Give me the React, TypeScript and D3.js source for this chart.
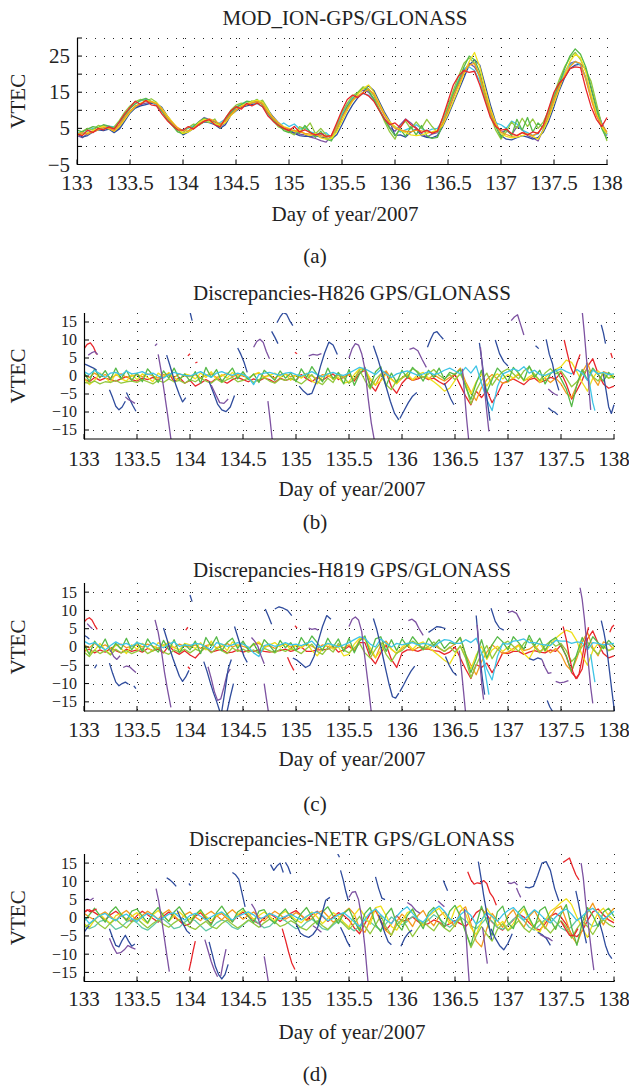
import React from "react";
import * as d3 from "d3";

// ---------- shared axis data ----------
const X_TICKS = [133, 133.5, 134, 134.5, 135, 135.5, 136, 136.5, 137, 137.5, 138];
const A_Y_TICKS = [-5, 0, 5, 10, 15, 20, 25, 30];
const A_Y_LABELS = [-5, 5, 15, 25];
const D_Y_TICKS = [-15, -10, -5, 0, 5, 10, 15];
const START_DAY = 133;
const STEP = 0.05;

// ---------- panel (a): MOD_ION VTEC, one value every 0.05 day ----------
const A_RED = [
  3.5,3.0,4.5,3.8,5.0,4.6,5.4,4.8,6.8,9.0,
  10.8,12.5,11.6,12.8,11.5,11.2,9.0,7.2,5.8,4.6,
  4.5,5.5,4.8,6.0,7.0,7.4,6.0,5.4,7.8,9.8,
  11.0,10.3,11.9,11.2,12.0,11.0,8.5,7.0,5.8,5.0,
  4.4,5.5,4.0,4.6,3.8,3.2,3.6,2.8,3.0,6.5,
  10.0,13.0,14.2,13.5,14.8,14.0,12.5,10.0,7.6,6.0,
  6.5,5.2,7.5,6.0,5.0,3.8,4.5,3.6,4.2,8.0,
  12.5,17.0,19.5,21.0,20.5,20.8,17.0,12.5,8.0,5.5,
  4.5,4.8,3.6,3.0,3.8,3.2,4.0,3.6,6.0,10.5,
  15.0,17.5,19.0,21.5,22.0,21.8,16.0,11.0,7.5,5.5,
  8.0];
const A_ORANGE = [
  3.0,3.8,3.4,4.0,4.6,5.2,5.0,4.4,6.0,8.0,
  9.8,11.2,11.8,12.5,12.3,11.8,10.2,8.0,6.5,5.2,
  4.3,4.4,5.0,6.2,7.0,7.6,7.0,6.2,7.0,8.8,
  10.2,11.0,11.5,12.0,12.4,11.8,9.5,7.8,6.4,5.3,
  4.8,4.4,4.0,3.6,3.4,3.2,3.0,2.6,2.8,5.0,
  8.0,10.5,12.8,14.0,15.0,15.8,14.5,11.5,8.6,6.4,
  5.0,4.6,4.2,4.0,4.5,4.3,4.0,3.8,4.2,6.5,
  10.0,13.8,17.0,20.5,22.5,23.0,19.5,14.5,9.5,6.0,
  4.0,3.3,2.8,3.0,3.8,3.4,3.0,3.8,5.5,8.8,
  13.0,16.5,19.5,22.0,23.5,23.0,18.5,13.0,8.5,6.0,
  4.0];
const A_YELLOW = [
  3.6,3.2,3.8,4.4,5.0,5.6,5.0,4.2,5.5,7.5,
  9.5,11.0,12.0,12.6,12.5,12.0,10.5,8.5,6.8,5.0,
  3.6,4.0,5.0,6.6,7.5,7.0,6.4,5.8,6.6,8.5,
  10.0,11.2,11.8,12.4,12.8,12.2,10.0,8.0,6.5,5.5,
  5.0,4.2,4.6,3.4,3.0,3.6,2.4,2.0,2.2,4.0,
  7.0,10.0,12.5,14.5,16.0,17.0,15.0,12.0,9.0,6.8,
  5.5,4.5,3.8,3.2,3.0,3.2,3.6,4.0,4.5,5.8,
  9.0,12.5,16.0,20.0,23.5,26.0,22.0,16.0,10.5,6.5,
  3.5,2.8,2.4,2.6,3.0,3.4,2.8,2.0,4.5,7.8,
  12.0,16.0,20.0,23.5,25.5,24.5,20.5,14.5,9.0,5.5,
  3.5];
const A_GREEN = [
  4.5,4.0,4.8,5.5,5.2,6.0,5.6,5.0,6.0,8.5,
  10.5,11.8,12.8,13.3,12.5,11.8,9.8,7.5,5.8,4.0,
  3.5,4.2,5.5,6.8,7.8,7.2,6.4,6.0,7.2,9.2,
  10.8,11.5,12.5,12.3,13.0,11.5,9.2,7.5,6.0,4.4,
  3.8,4.5,3.6,5.8,4.0,2.5,4.2,2.0,1.5,4.5,
  8.0,11.0,13.0,14.8,16.2,15.5,13.0,10.0,7.5,5.0,
  3.0,4.8,2.8,5.5,3.2,5.8,3.0,2.2,2.5,6.0,
  10.5,14.5,18.0,22.0,25.0,24.0,20.5,14.8,10.0,5.5,
  2.5,5.0,3.0,7.5,4.5,8.0,4.0,6.5,5.0,9.0,
  13.5,17.5,21.5,25.0,27.0,25.5,22.0,16.5,10.5,5.0,
  2.0];
const A_LIGHTGREEN = [
  3.2,4.2,5.0,4.6,5.8,5.4,4.8,5.4,7.2,9.5,
  11.2,12.4,13.0,12.5,13.2,12.2,10.4,8.2,6.4,4.5,
  3.8,5.2,6.2,5.8,7.0,6.6,7.6,5.2,7.8,10.0,
  11.4,12.0,11.6,12.6,12.0,12.8,10.5,7.2,5.4,4.8,
  4.0,3.2,5.5,4.8,6.5,3.5,5.0,3.2,2.5,6.0,
  9.5,12.0,14.0,15.0,16.5,16.0,14.0,10.5,7.0,4.0,
  2.0,5.5,7.0,4.8,6.8,5.0,7.5,5.5,4.0,7.8,
  11.5,15.5,19.5,23.0,24.5,23.0,19.0,13.5,8.5,4.5,
  2.0,4.0,6.8,5.0,7.8,5.5,7.6,5.0,6.8,10.0,
  14.5,18.5,22.0,24.5,26.0,24.0,21.0,18.0,12.0,6.0,
  1.5];
const A_CYAN = [
  3.8,3.5,4.2,5.0,4.6,5.0,5.6,5.4,6.6,8.6,
  10.6,11.8,12.6,13.0,12.4,11.4,9.6,7.6,6.0,4.8,
  4.6,5.0,5.8,6.4,7.8,6.8,6.2,6.6,7.6,9.4,
  10.8,11.8,12.4,12.2,11.8,11.0,9.0,7.0,5.6,6.5,
  5.5,6.2,4.8,5.2,4.0,3.6,3.2,3.8,2.5,5.0,
  9.0,11.8,13.5,14.0,14.6,14.2,12.8,10.2,7.8,6.0,
  5.5,4.0,4.6,5.2,6.0,5.0,4.2,4.8,5.0,7.2,
  10.8,14.8,18.5,21.5,22.0,21.0,18.0,13.0,8.8,6.5,
  6.0,5.0,7.0,6.2,4.5,3.8,3.0,3.5,5.8,10.0,
  14.0,17.5,20.5,22.5,23.5,22.5,19.0,13.5,9.5,6.2,
  3.2];
const A_BLUE = [
  3.5,2.6,3.0,4.0,4.6,4.4,4.8,3.8,4.8,7.0,
  9.2,10.6,11.2,11.6,12.0,11.8,10.8,8.5,6.6,4.8,
  3.2,4.0,5.0,6.0,6.8,6.6,6.0,5.0,6.0,8.6,
  9.8,10.8,11.2,11.6,12.0,12.2,10.2,8.2,6.6,5.2,
  4.2,3.6,3.0,2.8,2.8,3.0,2.6,2.4,2.0,3.2,
  6.0,9.0,11.5,13.5,15.0,16.8,15.5,12.5,9.5,7.0,
  3.0,3.2,2.6,4.0,4.8,3.0,2.5,2.4,3.0,5.5,
  8.5,12.0,15.5,19.0,22.5,24.0,22.5,17.0,11.5,6.8,
  3.0,2.0,1.8,2.4,3.0,2.6,2.0,2.5,4.0,7.0,
  11.0,15.5,19.0,21.5,22.5,22.8,21.5,16.0,10.5,6.5,
  3.5];
const A_PURPLE = [
  3.0,2.4,3.6,4.2,4.8,5.8,5.2,4.0,5.2,7.8,
  9.8,10.8,11.6,12.0,12.2,11.5,10.0,8.2,6.4,4.6,
  3.4,4.2,5.4,6.8,8.0,7.4,6.8,5.6,6.4,8.8,
  10.2,11.0,11.6,12.0,12.6,11.6,9.6,7.6,6.0,4.8,
  4.6,3.8,3.4,3.2,2.6,2.2,1.6,1.2,3.0,5.8,
  8.6,11.2,13.2,14.8,15.6,15.0,13.2,10.4,7.6,5.2,
  4.2,6.0,7.6,6.5,5.2,3.6,2.6,3.4,3.8,6.2,
  9.6,13.5,17.5,21.0,23.0,22.0,19.5,14.0,9.2,5.8,
  3.8,4.5,3.2,5.5,4.6,3.0,2.4,1.5,4.8,8.2,
  12.5,16.8,20.5,23.0,23.5,22.5,19.0,14.0,8.8,5.2,
  3.0];

// ---------- panel (b): H826 discrepancies ----------
const B_GREEN = [
  1.0,-1.5,2.0,-0.5,1.5,-1.0,2.2,-0.8,1.6,-1.2,
  0.8,-1.6,2.0,0.2,-1.8,1.4,-0.6,2.2,-1.0,0.6,
  -1.4,1.2,-2.0,2.4,-0.4,1.8,-1.6,0.4,2.2,-0.8,
  1.2,-1.0,0.6,-1.8,1.6,0.2,-1.2,1.4,-0.6,0.8,
  -1.6,2.0,-0.4,2.6,0.4,-1.6,2.2,-0.8,1.0,-2.2,
  1.8,-2.6,0.6,2.4,-3.2,1.2,2.6,-2.8,0.8,-1.8,
  1.6,-0.6,2.4,0.8,-1.4,1.6,-0.4,2.2,-1.0,1.0,
  0.4,1.8,-3.0,-6.5,-2.0,1.6,-4.5,-1.0,2.2,0.6,
  -1.6,2.4,0.8,-1.2,2.8,-0.4,1.6,-2.2,0.6,1.8,
  -0.8,-3.6,-8.5,-2.4,1.8,-1.2,2.2,0.4,-1.4,1.0,
  -0.6];
const B_LIGHTGREEN = [
  -1.8,-2.0,-1.4,-2.2,-1.6,-1.8,-1.2,-2.0,-1.6,-1.4,
  -1.8,-1.0,-1.6,-2.2,-1.2,-1.8,-0.8,-1.6,-1.2,-2.0,
  -1.0,-1.6,-0.6,-1.4,-2.0,-0.8,-1.8,-1.0,-0.4,-1.6,
  -1.2,-0.6,-1.8,-1.0,-0.4,-1.4,-2.0,-0.8,-1.2,-0.6,
  -1.4,-2.2,-1.0,0.4,-1.6,-2.4,-0.6,-1.8,0.8,-0.4,
  -2.0,-0.8,1.6,-1.2,-3.6,-1.0,0.6,-2.4,-3.8,-1.2,
  -0.6,0.8,2.0,1.2,-0.4,0.6,1.8,0.2,-0.8,0.4,
  -1.0,0.6,-2.4,-7.8,-4.0,-1.2,0.8,-2.6,-0.4,1.2,
  2.0,0.6,-0.8,1.4,2.6,0.4,-1.2,0.8,2.0,0.6,
  1.4,-0.6,-3.0,-1.6,0.6,1.8,-0.2,-1.4,0.8,-0.6,
  -0.2];
const B_YELLOW = [
  -0.6,-2.4,-1.2,0.8,-0.4,-1.8,0.6,-0.8,-1.4,0.4,
  -1.0,0.6,-0.4,-1.6,0.8,-0.2,1.0,-0.6,-1.2,0.6,
  0.2,-0.8,0.8,-0.4,1.2,-1.0,0.4,-0.6,1.0,-0.2,
  0.6,-0.8,0.4,1.0,-0.6,0.2,0.8,-0.4,0.6,-1.2,
  0.2,-0.6,0.8,-1.4,-2.2,-0.2,0.6,-1.0,-0.4,-2.0,
  -1.6,0.4,2.0,1.6,-0.6,-2.4,-1.4,0.6,-1.0,-2.2,
  -0.4,0.6,-1.0,0.4,1.0,-0.6,-1.6,-2.8,-4.2,-3.4,
  -1.2,0.8,-2.2,-5.0,-1.6,0.6,-2.8,-0.4,0.6,-0.8,
  0.4,-0.6,0.8,-1.4,-0.2,0.6,-1.8,-0.4,0.8,1.8,
  2.6,4.4,3.8,1.2,-1.8,-4.2,-0.6,1.4,0.2,-0.6,
  0.4];
const B_ORANGE = [
  0.2,-0.4,0.8,-0.2,0.4,-0.6,0.2,0.6,-0.4,0.0,
  0.4,-0.2,0.6,0.0,-0.6,0.4,0.2,-0.4,0.6,0.0,
  -0.2,0.4,-0.6,0.2,0.6,-0.4,0.0,0.8,-0.2,0.4,
  0.0,-0.6,0.4,0.8,-0.2,0.2,-0.6,0.4,0.6,-0.2,
  0.2,-0.4,0.6,0.0,-0.8,0.4,0.0,-0.6,0.2,-0.4,
  0.4,-1.0,1.8,2.2,-1.2,-2.6,0.4,1.4,-0.8,-2.0,
  -0.6,0.2,-1.2,-0.4,-0.2,-0.8,0.4,-0.6,-1.4,-0.4,
  0.6,2.2,-1.6,-4.4,-6.8,-3.2,-1.0,0.4,-0.8,-2.0,
  -1.6,-0.6,0.4,-1.2,-0.8,0.2,-1.4,-0.6,-1.8,-0.6,
  -2.2,-4.8,-6.0,-2.6,1.0,3.6,-0.4,-2.6,1.2,0.6,
  -0.8];
const B_CYAN = [
  1.2,0.4,1.6,0.6,-0.4,0.8,1.0,0.2,1.4,0.6,
  0.8,1.2,0.4,0.8,0.0,-0.6,0.4,1.0,0.6,0.2,
  0.0,0.6,1.2,0.4,-0.4,0.8,1.2,0.6,0.2,0.8,
  0.4,-0.4,-2.4,0.4,0.8,1.0,0.6,0.2,0.8,1.0,
  0.4,0.0,0.6,1.2,0.4,-0.2,0.6,1.0,0.4,0.2,
  0.8,1.6,2.4,2.0,1.2,0.4,1.8,0.6,-0.4,0.6,
  1.0,1.4,0.8,0.2,0.6,1.2,0.4,0.8,1.6,2.2,
  1.4,0.6,2.4,0.8,2.8,-2.0,-6.6,-9.6,-3.0,0.6,
  1.2,2.0,1.4,2.6,0.8,1.6,0.4,0.2,0.8,1.4,
  2.0,1.2,0.6,1.8,0.8,-1.2,1.6,0.6,1.0,0.4,
  0.6];
const B_RED = [
  -0.8,-1.6,-0.4,-1.2,-0.6,-1.0,-1.4,-0.8,-0.2,-1.0,
  -1.4,-0.6,-1.0,-0.4,-1.2,-0.2,0.8,-1.6,-0.4,-2.0,
  -1.2,-2.8,-2.0,-1.0,-1.8,-0.6,-1.2,-2.0,-1.0,-0.4,
  -1.0,-1.6,-0.8,-1.4,-0.6,-1.0,-1.8,-0.6,-1.2,-0.8,
  -1.2,0.4,-0.8,-1.6,-0.4,-1.2,-0.2,0.6,-1.0,-0.4,
  0.6,-1.4,0.8,1.6,-2.4,-4.2,-1.2,1.0,-3.0,-4.8,
  -2.0,-0.4,-1.2,-0.8,-0.2,-1.0,-0.6,-1.6,-2.4,-1.0,
  0.4,-2.6,-5.6,-8.0,-4.2,-6.0,-4.0,-7.4,-5.0,-2.0,
  -1.4,-0.8,-1.6,-2.4,-1.0,-0.6,-1.8,-1.2,-0.4,-0.8,
  1.0,-2.2,-6.4,-4.0,-1.2,2.6,4.8,0.6,-2.2,-3.4,
  -2.8];
// satellite arcs with large discrepancies: k = satellite group, t = start day, dt = sampling, v = values
const B_ARCS = [
  { k: "r", t: 133.0, dt: 0.03, v: [7.5, 8.8, 9.2, 8.0, 6.0] },
  { k: "p", t: 133.04, dt: 0.03, v: [5.8, 6.4, 6.8, 6.0] },
  { k: "b", t: 133.0, dt: 0.03, v: [3.4, 3.0, 2.6, 2.2, 1.6] },
  { k: "b", t: 133.24, dt: 0.03, v: [-3.8, -6.0, -8.4, -9.4, -8.6, -7.0] },
  { k: "b", t: 133.4, dt: 0.03, v: [-4.6, -6.4, -8.2, -9.8] },
  { k: "p", t: 133.39, dt: 0.03, v: [-5.8, -6.6, -7.0, -7.6] },
  { k: "p", t: 133.67, dt: 0.02, v: [8.4, 9.0] },
  { k: "p", t: 133.7, dt: 0.03, v: [6.0, 1.0, -5.0, -11.0, -17.5, -20] },
  { k: "b", t: 133.78, dt: 0.03, v: [5.8, 3.0, 0.0, -2.8, -5.2, -7.2, -6.0] },
  { k: "b", t: 134.0, dt: 0.02, v: [17.8, 15.4] },
  { k: "r", t: 133.98, dt: 0.02, v: [5.6, 6.2] },
  { k: "r", t: 134.05, dt: 0.02, v: [3.6, 3.9] },
  { k: "b", t: 134.18, dt: 0.04, v: [-1.5, -4.6, -7.8, -9.4, -9.9, -8.6, -5.4] },
  { k: "p", t: 134.2, dt: 0.04, v: [-2.5, -5.0, -7.4, -7.6, -6.4] },
  { k: "b", t: 134.45, dt: 0.03, v: [7.8, 6.0, 3.8, 1.0] },
  { k: "p", t: 134.6, dt: 0.03, v: [8.0, 9.6, 10.2, 9.4, 6.8, 4.8] },
  { k: "p", t: 134.735, dt: 0.02, v: [-7.0, -12.0, -17.5, -20] },
  { k: "b", t: 134.77, dt: 0.03, v: [12.4, 10.8, 9.0] },
  { k: "b", t: 134.82, dt: 0.03, v: [14.8, 16.4, 17.6, 17.2, 15.4, 14.0] },
  { k: "r", t: 134.99, dt: 0.02, v: [6.6, 6.2] },
  { k: "p", t: 135.12, dt: 0.04, v: [5.6, 6.0, 5.8, 6.2] },
  { k: "b", t: 135.03, dt: 0.04, v: [-2.8, -4.2, -5.2, -4.8, -1.8, 2.6, 6.4, 9.4, 8.6, 6.0] },
  { k: "p", t: 135.5, dt: 0.03, v: [5.0, 7.6, 9.0, 8.6, 6.2, 2.0, -6.0, -13.0, -18] },
  { k: "b", t: 135.73, dt: 0.04, v: [8.4, 5.0, 1.0, -3.0, -7.0, -10.4, -12.2] },
  { k: "b", t: 135.98, dt: 0.04, v: [-11.8, -9.6, -7.4, -5.6, -4.6] },
  { k: "p", t: 136.07, dt: 0.04, v: [7.4, 7.8, 7.0, 4.6, 2.4] },
  { k: "b", t: 136.24, dt: 0.03, v: [8.0, 10.2, 12.0, 12.3, 11.2, 10.2] },
  { k: "b", t: 136.4, dt: 0.03, v: [-2.0, -4.2, -6.4, -8.0] },
  { k: "p", t: 136.57, dt: 0.02, v: [2.0, -5.0, -12.0, -18.0] },
  { k: "b", t: 136.73, dt: 0.025, v: [9.2, 4.0, -2.0, -7.0, -12.4] },
  { k: "p", t: 136.74, dt: 0.02, v: [8.0, 2.0, -4.0, -10.0, -15.4] },
  { k: "b", t: 136.88, dt: 0.04, v: [10.0, 6.2, 4.0, 2.8] },
  { k: "p", t: 137.03, dt: 0.03, v: [15.4, 16.4, 17.0, 14.2, 11.4] },
  { k: "b", t: 137.26, dt: 0.03, v: [8.4, 7.6] },
  { k: "b", t: 137.36, dt: 0.03, v: [10.2, 6.0, 3.4, -1.0, -4.0] },
  { k: "p", t: 137.38, dt: 0.03, v: [-3.6, -4.4, -5.0, -5.4] },
  { k: "b", t: 137.38, dt: 0.03, v: [-8.8, -9.6, -10.0, -10.8] },
  { k: "r", t: 137.53, dt: 0.03, v: [10.0, 6.2, 2.6, 0.4, 3.6, 6.0] },
  { k: "c", t: 137.74, dt: 0.02, v: [3.6, 0.0, -4.0, -7.4, -9.6] },
  { k: "p", t: 137.7, dt: 0.02, v: [18.0, 12.0, 5.0, -2.0, -9.4] },
  { k: "b", t: 137.88, dt: 0.02, v: [14.2, 12.0, 9.0] },
  { k: "b", t: 137.9, dt: 0.025, v: [0.5, -4.0, -8.6, -10.4, -8.0] },
  { k: "r", t: 137.97, dt: 0.015, v: [6.4, 5.0] },
];

// ---------- panel (c): H819 discrepancies ----------
const C_GREEN = [
  0.8,-2.0,1.6,-0.4,2.2,-1.2,1.0,-0.6,2.4,-0.8,
  1.4,-1.2,2.2,0.0,-1.4,1.8,-0.8,2.0,-1.6,0.8,
  -0.8,1.6,-1.8,2.6,0.2,2.8,-1.0,1.2,2.4,-0.4,
  1.6,-0.8,1.0,-1.6,2.0,0.4,-1.4,1.8,-0.2,1.2,
  -1.0,2.6,0.4,3.0,1.2,-1.0,2.4,0.0,2.2,-1.2,
  2.4,-1.6,1.6,3.0,-2.0,2.2,2.8,-1.2,2.0,-1.0,
  2.2,0.2,2.8,1.0,-0.6,2.4,0.4,2.0,-0.4,1.2,
  0.8,2.6,-2.0,-7.0,-3.2,2.0,-3.0,0.6,2.8,1.4,
  -0.8,2.8,1.2,-0.6,3.2,0.4,2.4,-1.0,1.6,2.6,
  0.2,-2.4,-6.8,-1.8,2.6,-0.2,2.8,1.2,-0.4,1.8,
  0.2];
const C_LIGHTGREEN = [
  -1.4,-2.6,-0.8,-1.8,-1.0,-2.2,-0.6,-1.6,-1.0,-1.8,
  -1.2,-0.4,-1.8,-1.0,-0.2,-1.4,-2.0,-0.8,-1.4,-0.6,
  -1.6,-0.6,-1.2,-0.2,-1.6,-0.4,-1.0,-1.8,-0.2,-1.2,
  -0.6,-1.4,-0.8,-1.8,-0.4,-1.0,-1.6,-0.6,-1.2,-0.4,
  -1.0,-1.8,-0.4,0.8,-1.2,-2.0,-0.2,-1.4,1.0,-0.8,
  -1.6,-0.2,1.0,-1.6,-3.0,-0.6,1.2,-2.0,-4.0,-1.6,
  -1.0,0.4,1.6,0.6,-0.8,0.2,1.4,-0.2,-1.2,0.0,
  -1.4,0.2,-3.0,-8.4,-5.0,-1.8,0.4,-3.2,-0.8,0.8,
  1.6,0.2,-1.2,1.0,2.2,0.0,-1.6,0.4,1.6,0.2,
  1.0,-1.0,-4.0,-2.4,0.2,1.4,-0.6,-2.0,0.4,-1.0,
  -0.4];
const C_YELLOW = [
  -0.2,-1.8,-1.0,1.0,-0.8,-2.0,0.8,-0.4,-1.8,0.6,
  -0.6,1.0,-0.2,-1.2,1.2,0.2,1.4,-0.2,-0.8,1.0,
  0.6,-0.4,1.2,-0.8,1.6,-0.6,0.8,-1.0,1.4,0.2,
  1.0,-0.4,0.8,1.4,-0.2,0.6,1.2,0.0,1.0,-0.8,
  0.6,-0.2,1.2,-1.0,-2.4,-0.6,1.0,-0.6,0.0,-2.4,
  -2.0,0.8,2.4,2.0,-0.2,-2.8,-1.0,1.0,-0.6,-1.8,
  0.0,1.0,-0.6,0.8,1.4,-0.2,-1.2,-2.4,-3.6,-4.6,
  -2.0,0.4,-2.8,-6.0,-2.2,0.2,-3.4,-0.8,0.2,-1.2,
  0.0,-1.0,0.4,-1.8,-3.2,-0.6,1.0,-1.2,0.6,2.4,
  3.6,4.6,4.0,1.6,-2.4,-5.0,-1.0,1.0,0.0,-1.0,
  0.0];
const C_ORANGE = [
  0.6,-0.2,1.0,0.0,0.6,-0.4,0.4,0.8,-0.2,0.2,
  0.6,0.0,0.8,0.2,-0.4,0.6,0.4,-0.2,0.8,0.2,
  0.0,0.6,-0.4,0.4,0.8,-0.2,0.2,1.0,0.0,0.6,
  0.2,-0.4,0.6,1.0,0.0,0.4,-0.4,0.6,0.8,0.0,
  0.4,-0.2,0.8,0.2,-0.6,0.6,0.2,-0.4,0.4,-0.2,
  0.6,-0.8,2.0,2.6,-1.0,-3.0,0.6,1.6,-0.6,-1.8,
  -0.4,0.4,-1.0,-0.2,0.0,-0.6,0.6,-0.4,-1.2,-0.2,
  0.8,2.6,-2.0,-5.0,-7.6,-4.0,-1.4,0.6,-0.6,-1.8,
  -1.4,-0.4,0.6,-1.0,-0.6,0.4,-1.2,-0.4,-1.6,-0.4,
  -2.0,-5.0,-6.6,-3.0,1.4,4.0,-0.2,-2.4,1.4,0.8,
  -0.6];
const C_CYAN = [
  1.6,0.8,1.2,0.2,-0.8,0.4,1.4,0.6,1.0,0.2,
  1.2,0.8,0.0,1.2,0.4,-0.2,0.8,1.4,0.2,0.6,
  0.4,1.0,0.8,0.0,-0.8,1.2,0.8,0.2,0.6,1.2,
  0.8,0.0,-1.6,-2.6,0.4,0.8,0.2,0.6,1.2,0.6,
  0.8,0.4,1.0,1.6,0.0,0.2,1.0,0.6,0.0,0.6,
  1.2,2.0,2.8,2.4,0.8,0.0,2.2,1.0,0.0,1.0,
  0.6,1.0,1.2,0.6,1.0,0.8,0.0,1.2,2.0,1.8,
  1.0,1.0,2.0,1.2,2.4,-1.6,-6.0,-9.0,-2.6,1.0,
  0.8,1.6,1.8,2.2,1.2,1.2,0.8,0.6,0.4,1.8,
  1.6,1.6,1.0,1.4,1.2,-0.8,1.2,1.0,0.6,0.8,
  1.0];
const C_RED = [
  -1.2,-0.6,-1.6,-0.8,-1.4,-0.4,-1.0,-1.6,-0.6,-1.2,
  -0.8,-1.4,-0.4,-1.0,-0.6,-1.6,0.4,-1.2,-2.0,-1.0,
  -2.2,-3.0,-1.4,0.2,-1.4,-1.0,-0.6,-1.6,-1.4,-0.8,
  -1.4,-1.0,-1.2,-0.8,-1.2,-1.4,-1.2,-1.0,-0.6,-1.2,
  -0.8,0.0,-1.2,-1.2,-0.8,-0.8,-0.6,0.2,-1.4,-0.8,
  0.2,-1.0,1.2,1.2,-2.8,-4.6,-1.6,0.6,-3.4,-5.6,
  -1.6,-0.8,-0.8,-1.2,-0.6,-0.6,-1.0,-1.2,-2.0,-1.4,
  0.0,-3.0,-6.0,-8.6,-4.8,-5.6,-4.4,-7.0,-4.6,-1.6,
  -1.8,-1.2,-1.2,-2.0,-1.4,-1.0,-1.4,-1.6,-0.8,-1.2,
  0.6,-2.6,-7.0,-8.6,-6.0,2.2,4.4,1.0,-1.8,-3.0,
  -2.4];
const C_ARCS = [
  { k: "r", t: 133.0, dt: 0.025, v: [6.8, 7.6, 8.0, 7.4, 6.0, 4.8] },
  { k: "p", t: 133.03, dt: 0.025, v: [6.4, 5.6, 5.0] },
  { k: "b", t: 133.0, dt: 0.025, v: [3.2, 2.8, 2.2] },
  { k: "b", t: 133.1, dt: 0.02, v: [-5.8, -4.8] },
  { k: "b", t: 133.24, dt: 0.03, v: [-4.4, -7.2, -9.6, -10.6, -10.0, -9.6, -10.2] },
  { k: "b", t: 133.47, dt: 0.02, v: [-10.6, -11.4] },
  { k: "p", t: 133.37, dt: 0.03, v: [-5.6, -5.2, -5.4, -6.2, -7.0] },
  { k: "p", t: 133.25, dt: 0.03, v: [-0.8, -2.6, -3.4, -2.4] },
  { k: "p", t: 133.67, dt: 0.03, v: [7.4, 4.0, -1.0, -7.0, -12.0, -16.5] },
  { k: "b", t: 133.75, dt: 0.03, v: [5.2, 2.4, -0.6, -3.2, -5.6, -8.0, -9.4, -8.2, -6.4] },
  { k: "b", t: 134.0, dt: 0.02, v: [14.2, 12.4] },
  { k: "r", t: 133.96, dt: 0.02, v: [4.6, 5.4] },
  { k: "r", t: 133.98, dt: 0.02, v: [-5.4, -6.0] },
  { k: "b", t: 134.13, dt: 0.03, v: [-4.0, -6.6, -9.6, -12.4, -14.8, -17.5] },
  { k: "p", t: 134.17, dt: 0.03, v: [-5.4, -8.6, -12.2, -14.6, -14.2, -11.0, -7.4, -6.0] },
  { k: "b", t: 134.3, dt: 0.03, v: [-17.5, -12.0, -6.0, -3.4] },
  { k: "b", t: 134.35, dt: 0.03, v: [-17.6, -13.6, -10.0] },
  { k: "b", t: 134.42, dt: 0.03, v: [5.6, 2.8, 0.0, -2.6, -4.2] },
  { k: "p", t: 134.58, dt: 0.03, v: [2.6, 1.6, 0.2, -2.4, -4.6] },
  { k: "p", t: 134.7, dt: 0.02, v: [-10.0, -14.0, -17.8] },
  { k: "b", t: 134.71, dt: 0.03, v: [10.4, 8.4, 6.2] },
  { k: "b", t: 134.8, dt: 0.04, v: [10.4, 11.0, 10.6, 10.0, 8.6] },
  { k: "r", t: 134.99, dt: 0.02, v: [5.8, 5.2] },
  { k: "p", t: 135.12, dt: 0.03, v: [5.2, 4.8, 5.0, 4.6] },
  { k: "b", t: 134.97, dt: 0.04, v: [-3.0, -3.6, -4.6, -5.6, -5.0, -2.6, 1.6, 5.6, 8.6, 7.6] },
  { k: "r", t: 134.92, dt: 0.03, v: [-2.8, -4.8, -6.4] },
  { k: "p", t: 135.5, dt: 0.03, v: [5.6, 7.6, 8.2, 7.4, 4.2, -3.0, -10.0, -17.8] },
  { k: "b", t: 135.73, dt: 0.03, v: [7.8, 5.0, 1.4, -2.6, -6.6, -10.4, -13.6, -14.0, -12.6] },
  { k: "b", t: 135.98, dt: 0.035, v: [-12.2, -10.4, -8.4, -6.6, -5.2] },
  { k: "p", t: 136.06, dt: 0.035, v: [7.2, 7.6, 6.8, 4.8, 3.2] },
  { k: "b", t: 136.25, dt: 0.04, v: [4.0, 4.8, 5.6, 5.4, 5.0] },
  { k: "b", t: 136.41, dt: 0.035, v: [-2.6, -5.0, -6.8, -7.8] },
  { k: "p", t: 136.54, dt: 0.02, v: [-1.0, -6.0, -12.0, -18.0] },
  { k: "b", t: 136.7, dt: 0.02, v: [8.6, 2.0, -4.0, -9.0, -13.0] },
  { k: "p", t: 136.71, dt: 0.015, v: [6.0, 0.0, -6.0, -11.0, -14.4] },
  { k: "c", t: 136.76, dt: 0.02, v: [-2.0, -6.0, -9.6, -13.0] },
  { k: "b", t: 136.84, dt: 0.04, v: [10.6, 7.0, 5.2, 4.6] },
  { k: "p", t: 137.0, dt: 0.04, v: [9.4, 9.8, 9.2, 7.0] },
  { k: "b", t: 137.2, dt: 0.04, v: [-3.2, -3.6, -3.0, -3.4] },
  { k: "p", t: 137.32, dt: 0.03, v: [-3.4, -5.6, -7.2, -7.0] },
  { k: "p", t: 137.45, dt: 0.04, v: [-9.4, -9.8, -9.6, -9.2] },
  { k: "b", t: 137.37, dt: 0.025, v: [-14.6, -16.4, -17.6] },
  { k: "r", t: 137.52, dt: 0.03, v: [5.6, 2.0, -3.0, -6.6, -8.6, -7.4, -3.0, 2.0, 5.4] },
  { k: "p", t: 137.68, dt: 0.02, v: [16.2, 13.0, 8.0, 2.0, -5.0, -11.0, -15.4] },
  { k: "c", t: 137.78, dt: 0.02, v: [-2.0, -6.0, -9.6] },
  { k: "b", t: 137.88, dt: 0.025, v: [7.2, 4.0, 0.0, -6.0, -12.0, -17.8] },
  { k: "r", t: 137.96, dt: 0.02, v: [4.0, 5.4, 6.0] },
];

// ---------- panel (d): NETR discrepancies ----------
const D_GREEN = [
  -1.0,0.8,2.6,0.6,-1.2,1.6,3.0,1.0,-0.8,1.8,
  2.4,0.4,-1.4,1.2,2.8,0.6,-1.0,1.6,3.0,0.8,
  -1.6,0.8,2.2,0.0,-2.0,1.4,3.2,1.0,-1.2,1.6,
  2.6,0.4,-1.4,1.8,2.2,-0.2,-1.6,1.0,2.4,0.2,
  -1.2,1.2,2.8,0.4,-1.8,1.6,3.0,0.6,-1.6,1.2,
  2.4,-0.8,-3.6,1.2,2.8,-1.8,-3.8,0.8,2.6,-1.6,
  -3.4,0.6,2.4,-0.6,-3.0,1.4,2.8,0.2,-2.6,1.8,
  3.4,0.4,-4.0,-7.6,-2.0,3.2,-1.2,-4.8,1.6,3.2,
  -1.4,-3.0,1.6,3.2,0.0,-2.8,2.0,3.0,-0.6,-3.2,
  1.0,3.6,-2.6,-7.6,-1.4,2.8,0.6,-2.4,1.6,2.6,
  0.4];
const D_LIGHTGREEN = [
  -2.6,-1.8,-0.6,-2.0,-3.0,-1.4,-0.4,-1.8,-2.8,-1.2,
  -0.2,-1.6,-2.8,-1.6,-0.6,-1.8,-2.6,-1.4,-0.4,-1.6,
  -2.6,-3.2,-2.0,-1.0,-2.4,-3.0,-1.6,-0.6,-1.8,-2.8,
  -1.8,-0.6,-1.6,-2.6,-1.4,-0.4,-1.2,-2.4,-1.8,-0.8,
  -1.6,-2.8,-3.4,-2.0,-0.8,-2.2,-3.2,-1.6,-0.4,-1.8,
  -3.2,-1.6,0.4,-2.4,-4.4,-2.0,0.6,-2.6,-4.8,-2.0,
  -0.4,-2.6,-5.2,-3.0,-1.0,-2.4,-3.6,-1.4,-2.8,-3.8,
  -2.0,-0.2,-3.6,-8.2,-5.0,-2.4,-4.6,-6.4,-3.2,-1.6,
  -3.6,-2.4,-0.8,-2.8,-4.0,-2.0,-0.6,-2.6,-4.2,-2.4,
  -0.8,-2.6,-5.6,-3.0,-1.0,-2.4,-4.6,-2.2,-0.6,-1.8,
  -2.6];
const D_YELLOW = [
  -1.6,-2.8,-0.6,1.0,-0.4,-1.6,0.6,1.2,-0.8,0.4,
  1.4,-0.4,-1.6,0.8,2.0,0.4,-1.0,0.6,1.6,0.2,
  -0.6,0.8,1.8,0.4,-0.8,0.6,1.4,0.0,-1.0,0.8,
  2.0,1.2,-0.4,0.6,1.6,0.4,-0.8,0.8,1.8,0.6,
  -0.6,-1.4,0.2,1.6,0.2,-1.6,-0.2,1.4,0.4,-1.2,
  -2.6,0.8,2.6,0.4,-1.8,2.8,3.2,0.6,-2.4,-3.4,
  -1.0,1.4,2.0,-0.4,-2.2,0.4,1.6,2.6,0.6,-1.6,
  2.4,3.4,1.0,-2.8,-4.6,-1.0,2.6,0.4,-2.2,-1.0,
  -3.4,-1.6,0.8,2.4,-0.6,-3.0,-4.0,-0.8,1.8,2.8,
  4.2,5.2,3.6,0.2,-2.8,-5.4,-1.6,1.4,2.6,0.6,
  -0.8];
const D_ORANGE = [
  1.2,0.2,-0.6,0.8,1.6,0.4,-0.8,1.0,2.0,0.6,
  -0.6,0.6,1.8,0.8,-0.4,1.2,2.2,0.6,-0.8,0.8,
  1.6,0.2,-0.8,0.8,1.8,0.6,-0.6,1.0,2.2,0.8,
  -0.4,0.6,1.6,0.2,-0.8,0.6,1.8,0.8,-0.4,0.4,
  1.4,0.6,-0.8,-0.2,1.2,2.0,0.4,-1.2,-0.4,1.4,
  2.6,1.0,-3.0,-4.0,-0.6,2.6,-1.2,-3.6,-4.8,-1.0,
  1.0,-0.4,-2.4,0.6,2.0,-0.6,-2.2,0.4,1.6,-0.8,
  -2.4,1.8,3.0,-1.6,-6.4,-8.0,-3.0,1.2,-0.8,-2.6,
  0.6,2.2,-0.6,-2.6,0.4,2.0,-0.8,-3.0,0.2,2.4,
  3.2,-0.8,-5.0,-7.2,-3.4,1.4,4.0,0.8,-2.0,1.0,
  2.6];
const D_CYAN = [
  0.4,-1.6,-0.4,0.6,1.2,0.0,-0.8,0.4,1.0,-0.2,
  -1.0,0.2,1.2,0.6,-0.4,0.0,1.0,1.4,0.2,-0.6,
  0.6,1.2,0.4,-0.6,0.2,1.0,1.6,0.4,-0.6,0.4,
  1.0,1.6,0.8,-0.4,0.2,1.2,0.6,-0.2,0.4,1.0,
  0.2,-0.6,0.4,1.2,1.6,0.6,-0.8,-0.2,0.8,1.4,
  0.2,-1.2,-2.4,-0.4,1.4,2.4,0.8,-0.6,-1.6,0.4,
  2.0,3.0,1.2,-0.4,-1.2,0.6,2.2,3.2,1.8,-0.2,
  -1.2,0.8,2.0,0.6,-1.8,-0.6,1.4,0.4,-1.0,0.8,
  2.0,2.8,1.2,-0.6,0.8,2.2,1.0,-0.4,-1.4,0.2,
  1.6,2.4,1.0,-0.8,0.4,1.8,2.6,1.2,-0.4,0.6,
  1.8];
const D_TEAL = [
  -2.2,-3.0,-2.4,-1.0,-0.6,-1.8,-3.2,-2.6,-1.2,-0.4,
  -1.4,-2.8,-3.4,-2.2,-0.8,-0.4,-1.6,-3.0,-2.6,-1.2,
  -0.2,-0.8,-2.2,-3.6,-2.8,-1.4,-0.6,-1.2,-2.6,-3.2,
  -2.0,-0.8,-0.4,-1.6,-2.8,-2.4,-1.0,-0.2,-0.8,-2.0,
  -3.0,-2.6,-1.2,-0.4,-1.6,-3.0,-3.4,-2.0,-0.8,-1.4,
  -2.6,-3.6,-2.2,-0.6,-1.2,-2.4,-3.4,-1.6,0.2,-0.8,
  -2.0,-1.0,0.4,-0.4,-1.8,-0.6,0.8,-0.2,-1.6,-2.6,
  -1.4,0.2,-0.8,-2.2,-3.0,-1.6,0.0,-1.0,-2.6,-3.2,
  -2.0,-0.4,0.4,-0.8,-2.6,-3.4,-2.0,-0.4,0.2,-1.2,
  -2.8,-3.6,-2.4,-0.6,0.2,-1.2,-2.4,-1.8,-0.4,0.4,
  -0.6];
const D_RED = [
  1.6,2.2,1.4,0.4,-0.6,0.8,1.8,0.6,-0.4,-1.0,
  0.6,1.8,0.8,-0.2,-1.2,0.4,1.6,0.2,-0.8,-2.2,
  -1.6,0.4,1.4,-0.4,-1.6,0.6,1.2,-0.2,-1.0,0.4,
  1.6,0.4,-0.8,-1.6,0.0,1.2,0.2,-1.0,0.2,1.2,
  2.0,0.6,-0.6,0.8,1.8,0.4,-1.0,0.2,1.4,0.6,
  -0.6,-2.8,-4.4,-1.6,1.2,2.0,-0.8,-3.4,-1.6,0.6,
  -1.0,-0.6,0.2,-1.0,-2.0,-1.6,-0.6,-1.2,-2.4,-1.6,
  -0.8,-1.6,-2.4,-0.8,1.4,2.4,0.8,-1.2,-2.6,-3.4,
  -2.0,-0.6,1.0,0.2,-1.4,-2.8,-3.4,-1.6,0.4,1.2,
  0.2,-1.8,-4.6,-5.2,-3.6,-0.8,1.6,2.4,0.8,-0.6,
  -1.4];
const D_ARCS = [
  { k: "p", t: 133.0, dt: 0.03, v: [4.6, 5.2, 4.8, 5.4] },
  { k: "r", t: 133.0, dt: 0.03, v: [1.4, 2.2, 1.6, 2.0, 2.4] },
  { k: "b", t: 133.0, dt: 0.025, v: [-4.0, -3.0, -2.2] },
  { k: "b", t: 133.24, dt: 0.03, v: [-3.0, -5.4, -7.6, -8.0, -6.2, -4.8, -6.4, -7.8, -7.2] },
  { k: "p", t: 133.24, dt: 0.035, v: [-5.6, -8.0, -9.8, -9.6, -8.8, -7.6, -8.2, -8.6] },
  { k: "p", t: 133.68, dt: 0.025, v: [8.0, 4.6, 0.0, -5.0, -10.0, -14.8] },
  { k: "b", t: 133.78, dt: 0.03, v: [11.0, 10.4, 9.6, 8.6] },
  { k: "b", t: 133.88, dt: 0.03, v: [2.0, 0.0, -2.0, -3.6, -4.4] },
  { k: "b", t: 133.99, dt: 0.015, v: [9.4, 8.8] },
  { k: "r", t: 133.99, dt: 0.02, v: [-14.6, -12.0, -9.0, -6.4] },
  { k: "p", t: 134.14, dt: 0.03, v: [-6.0, -9.0, -12.0, -14.4, -16.2] },
  { k: "b", t: 134.18, dt: 0.03, v: [-6.6, -10.0, -13.4, -15.6, -16.8, -15.6, -12.8] },
  { k: "p", t: 134.29, dt: 0.025, v: [-16.0, -12.0, -8.6] },
  { k: "b", t: 134.4, dt: 0.03, v: [12.4, 11.8, 10.6, 6.8, 3.0] },
  { k: "p", t: 134.58, dt: 0.03, v: [3.8, 2.4, 0.0, -2.6] },
  { k: "p", t: 134.7, dt: 0.02, v: [-10.6, -14.0, -17.8] },
  { k: "b", t: 134.76, dt: 0.03, v: [14.6, 13.0, 14.2, 15.0, 12.4] },
  { k: "b", t: 134.9, dt: 0.025, v: [15.2, 14.0, 12.0] },
  { k: "r", t: 134.87, dt: 0.03, v: [-3.0, -6.0, -9.4, -12.4, -14.2] },
  { k: "b", t: 135.0, dt: 0.04, v: [-1.6, -4.2, -5.0, -5.4, -4.6, -3.0, 0.6, 4.8, 5.6] },
  { k: "p", t: 135.16, dt: 0.04, v: [-2.2, -3.0, -4.0] },
  { k: "b", t: 135.39, dt: 0.02, v: [17.8, 16.6] },
  { k: "b", t: 135.42, dt: 0.025, v: [13.0, 10.4, 7.2, 4.6] },
  { k: "b", t: 135.42, dt: 0.03, v: [-2.6, -4.4, -6.4, -8.0] },
  { k: "p", t: 135.5, dt: 0.03, v: [5.6, 7.0, 7.2, 5.0, 0.0, -8.0, -17.8] },
  { k: "b", t: 135.75, dt: 0.03, v: [11.2, 8.0, 5.4, 5.0] },
  { k: "b", t: 135.78, dt: 0.03, v: [0.8, -1.8, -4.4, -6.6, -7.4] },
  { k: "b", t: 135.99, dt: 0.035, v: [-7.8, -5.6, -4.2, -3.4] },
  { k: "p", t: 136.05, dt: 0.04, v: [4.2, 3.4, 2.0, 1.2] },
  { k: "b", t: 136.39, dt: 0.02, v: [10.2, 8.8, 7.4] },
  { k: "p", t: 136.34, dt: 0.03, v: [4.6, 3.8, 3.0] },
  { k: "p", t: 136.59, dt: 0.015, v: [2.4, -5.0, -12.0, -18.0] },
  { k: "r", t: 136.62, dt: 0.03, v: [12.6, 10.4, 9.2, 9.6, 9.4, 10.2, 9.4, 6.8, 5.6, 3.4] },
  { k: "b", t: 136.72, dt: 0.025, v: [15.4, 11.0, 6.2, 2.0, -2.0, -6.0] },
  { k: "p", t: 136.76, dt: 0.015, v: [-2.6, -6.0, -9.4, -12.6] },
  { k: "b", t: 136.84, dt: 0.04, v: [-3.0, -5.6, -7.6, -8.8, -7.0, -4.4] },
  { k: "p", t: 137.0, dt: 0.03, v: [9.6, 9.4, 9.8, 9.0] },
  { k: "p", t: 137.08, dt: 0.02, v: [8.2, 6.8, 5.6] },
  { k: "b", t: 137.16, dt: 0.04, v: [8.4, 8.2, 8.6, 11.6, 15.0, 15.4, 13.0, 8.0, 4.6] },
  { k: "b", t: 137.28, dt: 0.04, v: [-4.0, -4.6, -5.6, -7.6] },
  { k: "p", t: 137.3, dt: 0.04, v: [-4.6, -5.2, -5.6, -6.4] },
  { k: "r", t: 137.52, dt: 0.03, v: [15.2, 15.8, 16.4, 14.0, 11.8, 10.4] },
  { k: "r", t: 137.5, dt: 0.04, v: [-1.0, -3.0, -4.8, -5.0, -3.0] },
  { k: "p", t: 137.69, dt: 0.02, v: [15.0, 11.0, 5.0, 0.0, -5.0, -10.0, -14.4] },
  { k: "b", t: 137.64, dt: 0.025, v: [7.4, 4.0, 0.0, -3.6, -7.0] },
  { k: "b", t: 137.86, dt: 0.03, v: [-1.0, -4.0, -7.6, -10.0, -11.2] },
];

// ---------- styling ----------
const COLORS: Record<string, string> = {
  r: "#e8262b",
  o: "#f39a1e",
  y: "#efe01c",
  g: "#55b947",
  l: "#93c83e",
  c: "#3fc4e6",
  t: "#62c8a6",
  b: "#2f4c9d",
  p: "#7d52a1",
};
const FONT = "'Liberation Serif', 'DejaVu Serif', serif";
const FS = 21;

type Arc = { k: string; t: number; dt: number; v: number[] };
type Panel = {
  id: string;
  title: string;
  cap: string;
  yDomain: [number, number];
  yTicks: number[];
  yLabels: number[];
  yLabelSize: number;
  series: [number[], string][];
  arcs: Arc[];
  x0: number; x1: number; top: number; bottom: number;
  titleY: number; tickY: number; xTitleY: number; capY: number;
};

const PANELS: Panel[] = [
  {
    id: "a", title: "MOD_ION-GPS/GLONASS", cap: "(a)",
    yDomain: [-5, 30], yTicks: A_Y_TICKS, yLabels: A_Y_LABELS, yLabelSize: 21,
    series: [[A_PURPLE, "p"], [A_BLUE, "b"], [A_CYAN, "c"], [A_LIGHTGREEN, "l"], [A_GREEN, "g"], [A_YELLOW, "y"], [A_ORANGE, "o"], [A_RED, "r"]],
    arcs: [],
    x0: 77, x1: 607, top: 38, bottom: 164.5,
    titleY: 25, tickY: 190, xTitleY: 221, capY: 263,
  },
  {
    id: "b", title: "Discrepancies-H826 GPS/GLONASS", cap: "(b)",
    yDomain: [-17.5, 17.5], yTicks: D_Y_TICKS, yLabels: D_Y_TICKS, yLabelSize: 16,
    series: [[B_RED, "r"], [B_ORANGE, "o"], [B_YELLOW, "y"], [B_LIGHTGREEN, "l"], [B_GREEN, "g"], [B_CYAN, "c"]],
    arcs: B_ARCS,
    x0: 84, x1: 614, top: 313, bottom: 439,
    titleY: 300, tickY: 466, xTitleY: 496, capY: 529,
  },
  {
    id: "c", title: "Discrepancies-H819 GPS/GLONASS", cap: "(c)",
    yDomain: [-17.5, 17.5], yTicks: D_Y_TICKS, yLabels: D_Y_TICKS, yLabelSize: 16,
    series: [[C_RED, "r"], [C_ORANGE, "o"], [C_YELLOW, "y"], [C_LIGHTGREEN, "l"], [C_GREEN, "g"], [C_CYAN, "c"]],
    arcs: C_ARCS,
    x0: 84, x1: 614, top: 583, bottom: 711,
    titleY: 577, tickY: 737, xTitleY: 766, capY: 811,
  },
  {
    id: "d", title: "Discrepancies-NETR GPS/GLONASS", cap: "(d)",
    yDomain: [-17.5, 17.5], yTicks: D_Y_TICKS, yLabels: D_Y_TICKS, yLabelSize: 16,
    series: [[D_RED, "r"], [D_TEAL, "t"], [D_ORANGE, "o"], [D_YELLOW, "y"], [D_LIGHTGREEN, "l"], [D_GREEN, "g"], [D_CYAN, "c"]],
    arcs: D_ARCS,
    x0: 84, x1: 614, top: 854, bottom: 981.5,
    titleY: 846, tickY: 1006, xTitleY: 1039, capY: 1081,
  },
];

const fmt = (v: number) => (v < 0 ? "\u2212" + Math.abs(v) : String(v));

function PanelView({ p }: { p: Panel }) {
  const x = d3.scaleLinear().domain([133, 138]).range([p.x0, p.x1]);
  const y = d3.scaleLinear().domain(p.yDomain).range([p.bottom, p.top]);
  const midX = (p.x0 + p.x1) / 2;
  const line = (t0: number, dt: number) =>
    d3.line<number>().x((_, i) => x(t0 + i * dt)).y((v) => y(v));
  const clipId = "clip-" + p.id;
  const gridY = p.yTicks.filter((v) => v > p.yDomain[0]);
  const gridX = X_TICKS.filter((v) => v > 133);
  return (
    <g>
      <defs>
        <clipPath id={clipId}>
          <rect x={p.x0} y={p.top} width={p.x1 - p.x0 + 1} height={p.bottom - p.top} />
        </clipPath>
      </defs>
      {gridY.map((v) => (
        <line key={"gy" + v} x1={p.x0} x2={p.x1} y1={Math.round(y(v)) + 0.5} y2={Math.round(y(v)) + 0.5}
          stroke="#222" strokeWidth={1} strokeDasharray="1 8" />
      ))}
      {gridX.map((v) => (
        <line key={"gx" + v} x1={Math.round(x(v)) + 0.5} x2={Math.round(x(v)) + 0.5} y1={p.top} y2={p.bottom}
          stroke="#222" strokeWidth={1} strokeDasharray="1 8" />
      ))}
      <g clipPath={`url(#${clipId})`} fill="none" strokeWidth={1.3} strokeLinejoin="round">
        {p.series.map(([vals, k], i) => (
          <path key={"s" + i} d={line(START_DAY, STEP)(vals) || ""} stroke={COLORS[k]} />
        ))}
        {p.arcs.map((a, i) => (
          <path key={"a" + i} d={line(a.t, a.dt)(a.v) || ""} stroke={COLORS[a.k]} />
        ))}
      </g>
      <line x1={p.x0 + 0.5} x2={p.x0 + 0.5} y1={p.top} y2={p.bottom + 0.5} stroke="#000" strokeWidth={1.2} />
      <line x1={p.x0} x2={p.x1 + 0.5} y1={p.bottom} y2={p.bottom} stroke="#000" strokeWidth={1.2} />
      {X_TICKS.map((v) => (
        <g key={"xt" + v}>
          <line x1={x(v)} x2={x(v)} y1={p.bottom} y2={p.bottom - 5} stroke="#000" strokeWidth={1} />
          <text x={x(v)} y={p.tickY} textAnchor="middle">{String(v)}</text>
        </g>
      ))}
      {p.yTicks.map((v) => (
        <line key={"yt" + v} x1={p.x0} x2={p.x0 + 5} y1={y(v)} y2={y(v)} stroke="#000" strokeWidth={1} />
      ))}
      {p.yLabels.map((v) => (
        <text key={"yl" + v} x={p.x0 - 7} y={y(v)} dy="0.34em" textAnchor="end" fontSize={p.yLabelSize}>{fmt(v)}</text>
      ))}
      <text x={midX + 3} y={p.titleY} textAnchor="middle">{p.title}</text>
      <text x={midX + 3} y={p.xTitleY} textAnchor="middle">Day of year/2007</text>
      <text transform={`translate(25,${(p.top + p.bottom) / 2}) rotate(-90)`} textAnchor="middle">VTEC</text>
      <text x={315} y={p.capY} textAnchor="middle">{p.cap}</text>
    </g>
  );
}

export default function App() {
  return (
    <svg width={629} height={1086} viewBox="0 0 629 1086"
      style={{ position: "absolute", left: 0, top: 0, background: "#fff" }}
      fontFamily={FONT} fontSize={FS} fill="#222">
      <rect x={0} y={0} width={629} height={1086} fill="#fff" />
      {PANELS.map((p) => <PanelView key={p.id} p={p} />)}
    </svg>
  );
}
